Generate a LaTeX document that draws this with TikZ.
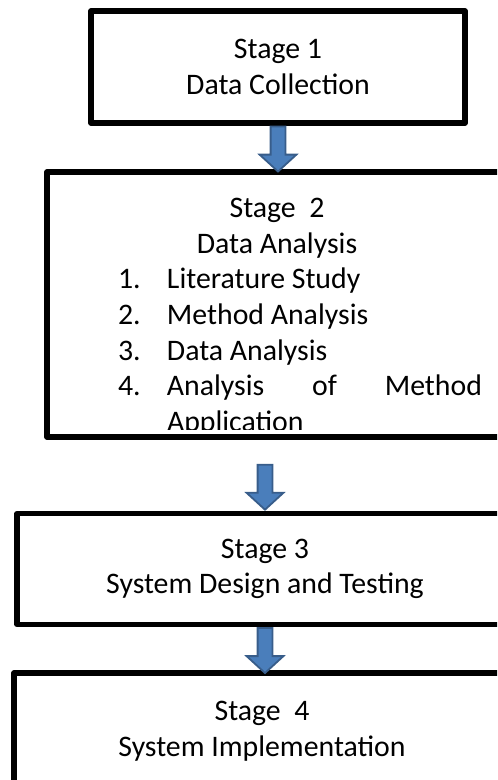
\documentclass[tikz,border=0pt]{standalone}
\usepackage{fontspec}
\setmainfont{Carlito}
\usetikzlibrary{shapes.arrows}
\definecolor{arrowfill}{HTML}{4A7EBB}
\definecolor{arrowedge}{HTML}{385D8A}

\begin{document}
\begin{tikzpicture}[x=0.5pt, y=-0.5pt,
  stagefont/.style={font=\fontsize{14.9pt}{17.8pt}\selectfont},
  stagebox/.style={draw, line width=2.6pt, line join=round, align=center, stagefont},
  stagearrow/.style={single arrow, shape border rotate=270, draw=arrowedge,
    line width=0.9pt, fill=arrowfill, inner sep=3.25pt, minimum height=22.5pt,
    single arrow head extend=5.5pt, single arrow tip angle=95}]
    \useasboundingbox (0,0) rectangle (497,780);
    \clip (0,0) rectangle (497,780);
    % stage boxes
    \node[stagebox, minimum width=187pt, minimum height=56pt] (s1) at (278,67)
        {Stage 1\\Data Collection};
    \node[stagebox, minimum width=230pt, minimum height=132.5pt] (s2) at (277,304.5) {};
    \node[stagebox, minimum width=248pt, minimum height=55.5pt] (s3) at (265,569)
        {Stage 3\\System Design and Testing};
    \node[stagebox, minimum width=248pt, minimum height=58.5pt] (s4) at (262,731.5)
        {Stage\ \ 4\\System Implementation};
    % stage 2 text runs past its frame, so clip it
    \begin{scope}
        \clip (s2.north west) rectangle ([yshift=5.25pt]s2.south east);
        \node[anchor=north, inner sep=0pt, text width=230pt, align=left, stagefont]
            (s2text) at (277,198) {\spaceskip=0pt\xspaceskip=0pt\relax
            \makebox[230pt]{Stage\ \ 2}\\
            \makebox[230pt]{Data Analysis}\\
            \hspace*{35.5pt}\makebox[24.5pt][l]{1.}Literature Study\\
            \hspace*{35.5pt}\makebox[24.5pt][l]{2.}Method Analysis\\
            \hspace*{35.5pt}\makebox[24.5pt][l]{3.}Data Analysis\\
            \hspace*{35.5pt}\makebox[24.5pt][l]{4.}\makebox[157.5pt][l]{Analysis\hfill of\hfill Method}\\
            \hspace*{60pt}Application};
    \end{scope}
    % arrows between stages
    \node[stagearrow, anchor=tail] (a1) at (s1.south) {};
    \node[stagearrow, anchor=tip] (a2) at (s3.north) {};
    \node[stagearrow, anchor=tail] (a3) at (s3.south) {};
\end{tikzpicture}
\end{document}
